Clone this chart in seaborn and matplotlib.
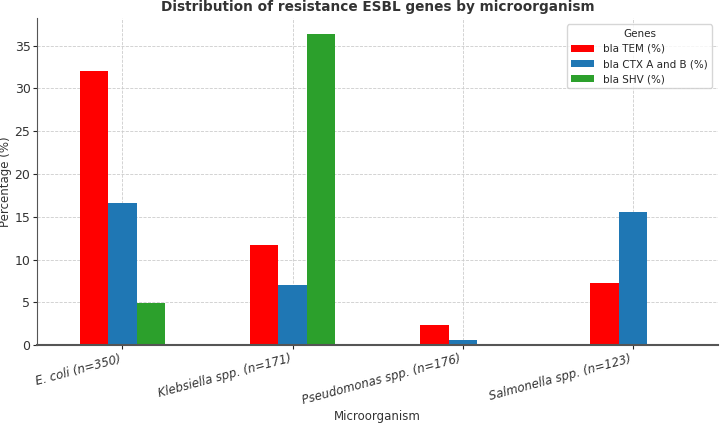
"""Grouped bar chart of ESBL resistance genes by microorganism."""
import matplotlib
matplotlib.use('Agg')
import matplotlib.pyplot as plt
import seaborn as sns
import pandas as pd

# %%
microorganisms = ['E. coli (n=350)', 'Klebsiella spp. (n=171)',
                  'Pseudomonas spp. (n=176)', 'Salmonella spp. (n=123)']
genes = ['bla TEM (%)', 'bla CTX A and B (%)', 'bla SHV (%)']
tem = [32.0, 11.7, 2.3, 7.3]
ctx = [16.6, 7.0, 0.6, 15.5]
shv = [4.9, 36.3, 0.0, 0.0]
colors = ['#ff0000', '#1f77b4', '#2ca02c']

df = pd.DataFrame({'Microorganism': microorganisms,
                   genes[0]: tem, genes[1]: ctx, genes[2]: shv})
long = df.melt(id_vars='Microorganism', var_name='Genes', value_name='Percentage')

# %%
sns.set_style('whitegrid', {'grid.linestyle': '--', 'grid.color': '#cccccc'})
plt.rcParams['font.family'] = ['DejaVu Sans']

fig, ax = plt.subplots(figsize=(7.2, 4.23), dpi=100)
sns.barplot(data=long, x='Microorganism', y='Percentage', hue='Genes',
            palette=colors, width=0.5, saturation=1, linewidth=0, ax=ax)

ax.set_title('Distribution of resistance ESBL genes by microorganism',
             fontsize=9.8, fontweight='bold', color='#333333', pad=5)
ax.set_xlabel('Microorganism', fontsize=8.5, color='#333333', labelpad=2)
ax.set_ylabel('Percentage (%)', fontsize=8.5, color='#333333', labelpad=2)
plt.setp(ax.get_xticklabels(), rotation=15, ha='right', style='italic',
         fontsize=8.5, color='#333333')
plt.setp(ax.get_yticklabels(), fontsize=9, color='#333333')
ax.tick_params(axis='x', bottom=True, length=3, pad=2)
ax.tick_params(axis='y', left=True, length=3, pad=2)
ax.set_ylim(0, 38.2)
ax.set_xlim(-0.5, 3.5)
ax.grid(True, axis='both', linestyle='--', linewidth=0.6)
ax.set_axisbelow(True)

for side in ['top', 'right']:
    ax.spines[side].set_visible(False)
ax.spines['left'].set_color('#555555')
ax.spines['bottom'].set_color('#555555')
ax.spines['bottom'].set_linewidth(1.5)

ax.legend(title='Genes', loc='upper right', fontsize=7.5, title_fontsize=7.5,
          frameon=True, handlelength=2.2, handleheight=0.7, borderaxespad=0.6)

fig.subplots_adjust(left=0.052, right=0.997, top=0.957, bottom=0.184)
plt.savefig('out.png', dpi=100)
